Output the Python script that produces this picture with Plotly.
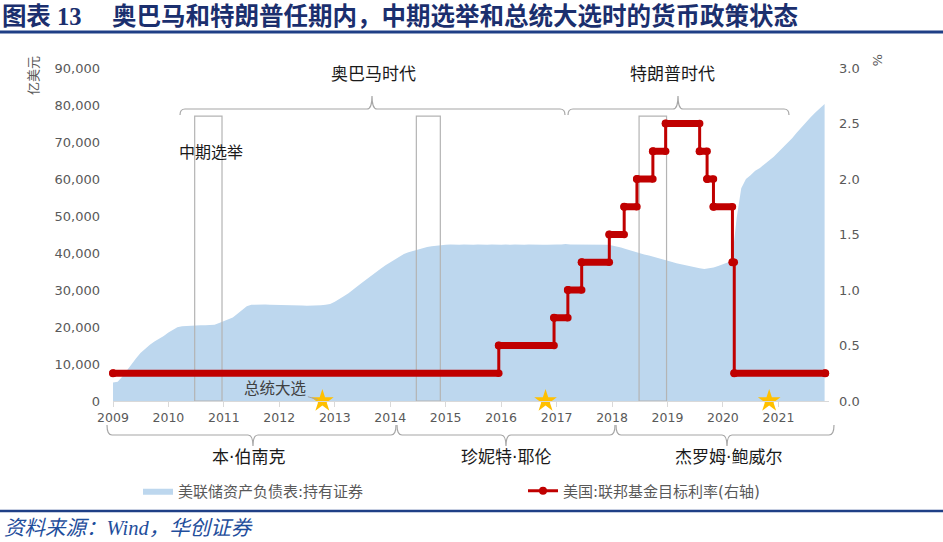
import plotly.graph_objects as go
import pandas as pd

# ---------------- data ----------------
holdings_start = "2009-01-01"
# 美联储资产负债表:持有证券 (亿美元), monthly from 2009-01
holdings = [
    5000, 5200, 6500, 8300, 10000, 11500, 13000, 14200, 15200, 16100, 16800, 17600,
    18500, 19300, 19900, 20200, 20300, 20400, 20500, 20500, 20500, 20500, 20600, 21100,
    21600, 22100, 22600, 23600, 24700, 25600, 26000, 26100, 26100, 26100, 26000, 26000,
    26000, 26000, 25900, 25900, 25800, 25800, 25750, 25750, 25800, 25900, 26000, 26200,
    26800, 27500, 28300, 29100, 30200, 31100, 32000, 32900, 33800, 34800, 35800, 36700,
    37500, 38200, 38900, 39700, 40200, 40600, 40900, 41300, 41600, 41800, 42000, 42100,
    42200, 42300, 42200, 42200, 42300, 42200, 42200, 42300, 42200, 42200, 42300, 42200,
    42200, 42300, 42200, 42300, 42200, 42200, 42300, 42200, 42300, 42200, 42200, 42300,
    42300, 42300, 42400, 42300, 42300, 42400, 42300, 42300, 42300, 42300, 42200, 42200,
    42000, 41800, 41500, 41100, 40700, 40300, 40000, 39600, 39300, 39000, 38700, 38400,
    38000, 37600, 37200, 36900, 36600, 36300, 36100, 35900, 35700, 35800, 36100, 36500,
    36900, 37400, 37900, 49500, 57500, 60000, 61000, 62200, 63000, 64000, 64900, 66000,
    67300, 68500, 69700, 71000, 72500, 74000, 75300, 76700, 78000, 79100, 80300,
]

# 美国:联邦基金目标利率 (%), change dates and levels
rate_dates = ["2009-01-01", "2015-12-17", "2016-12-15", "2017-03-16", "2017-06-15",
              "2017-12-14", "2018-03-22", "2018-06-14", "2018-09-27", "2018-12-20",
              "2019-08-01", "2019-09-19", "2019-10-31", "2020-03-04", "2020-03-16"]
rate_levels = [0.25, 0.50, 0.75, 1.00, 1.25, 1.50, 1.75, 2.00, 2.25, 2.50,
               2.25, 2.00, 1.75, 1.25, 0.25]
rate_end = "2021-11-05"

midterm_start = ["2010-06-23", "2014-06-22", "2018-06-28"]
midterm_end = ["2010-12-20", "2014-11-27", "2018-12-26"]
midterm_box_top = 77000

election_dates = ["2012-10-11", "2016-10-20", "2020-11-01"]

years = [str(y) for y in range(2009, 2022)]

name_area = "美联储资产负债表:持有证券"
name_rate = "美国:联邦基金目标利率(右轴)"

# ---------------- helpers (pixel -> paper) ----------------
W, H = 943, 542
ML, MR, MT, MB = 113, 114, 68, 141
PW, PH = W - ML - MR, H - MT - MB


def X(px):
    return (px - ML) / PW


def Y(py):
    return (H - MB - py) / PH


CJK = "Noto Sans CJK SC"
MIX = "DejaVu Sans, Noto Sans CJK SC"
NUM = "DejaVu Sans"
GRAY = "#595959"

holdings_dates = pd.date_range(holdings_start, periods=len(holdings), freq="MS")

fig = go.Figure()

# area
fig.add_trace(go.Scatter(
    x=holdings_dates, y=holdings, name=name_area, mode="lines",
    line=dict(width=0, color="#BDD7EE"), fill="tozeroy", fillcolor="#BDD7EE",
    hoverinfo="skip", legend="legend"))

# midterm boxes
bx, by = [], []
for s, e in zip(midterm_start, midterm_end):
    bx += [s, s, e, e, s, None]
    by += [0, midterm_box_top, midterm_box_top, 0, 0, None]
fig.add_trace(go.Scatter(x=bx, y=by, mode="lines", showlegend=False,
                         line=dict(color="#b4b4b4", width=1.2), hoverinfo="skip"))

# election stars
fig.add_trace(go.Scatter(x=election_dates, y=[0] * len(election_dates), mode="markers",
                         marker=dict(symbol="star", size=17, color="#FFC000",
                                     line=dict(width=0)),
                         showlegend=False, cliponaxis=False, hoverinfo="skip"))

# rate: thin step line (legend)
rx = rate_dates + [rate_end]
ry = rate_levels + [rate_levels[-1]]
fig.add_trace(go.Scatter(x=rx, y=ry, yaxis="y2", name=name_rate, mode="lines+markers",
                         line=dict(color="#C00000", width=3, shape="hv"),
                         marker=dict(size=8, color="#C00000"),
                         cliponaxis=False, hoverinfo="skip", legend="legend2"))
# rate: thick horizontal bars
tx, ty = [], []
for i, lvl in enumerate(rate_levels):
    tx += [rx[i], rx[i + 1], None]
    ty += [lvl, lvl, None]
fig.add_trace(go.Scatter(x=tx, y=ty, yaxis="y2", mode="lines+markers", showlegend=False,
                         line=dict(color="#C00000", width=7),
                         marker=dict(size=7.5, color="#C00000"),
                         cliponaxis=False, hoverinfo="skip"))


def brace(xl, xm, xr, yh, yend, ytip, r=5):
    return (f"M {X(xl)},{Y(yend)} Q {X(xl)},{Y(yh)} {X(xl + r)},{Y(yh)} "
            f"L {X(xm - r)},{Y(yh)} Q {X(xm)},{Y(yh)} {X(xm)},{Y(ytip)} "
            f"Q {X(xm)},{Y(yh)} {X(xm + r)},{Y(yh)} "
            f"L {X(xr - r)},{Y(yh)} Q {X(xr)},{Y(yh)} {X(xr)},{Y(yend)}")


shapes = []
brace_style = dict(type="path", xref="paper", yref="paper",
                   line=dict(color="#a6a6a6", width=1.2))
for (xl, xm, xr) in [(180, 372, 565), (568, 678, 789)]:
    shapes.append(dict(path=brace(xl, xm, xr, 109, 115, 96), **brace_style))
for (xl, xm, xr) in [(107, 253, 396), (397, 506, 615), (616, 727, 834)]:
    shapes.append(dict(path=brace(xl, xm, xr, 435, 425, 446), **brace_style))
shapes.append(dict(type="line", xref="paper", yref="paper", x0=X(0), x1=X(W),
                   y0=Y(32), y1=Y(32), line=dict(color="#1F3F86", width=3)))
shapes.append(dict(type="line", xref="paper", yref="paper", x0=X(0), x1=X(W),
                   y0=Y(511), y1=Y(511), line=dict(color="#1F3F86", width=2.5)))

ann = []


def label(text, px, py, size=17, color="#1a1a1a", family=MIX, **kw):
    ann.append(dict(text=text, xref="paper", yref="paper", x=X(px), y=Y(py),
                    showarrow=False, xanchor=kw.pop("xanchor", "center"),
                    yanchor="middle", font=dict(family=family, size=size, color=color), **kw))


label("奥巴马时代", 373, 74)
label("特朗普时代", 672, 74)
label("本·伯南克", 248, 457)
label("珍妮特·耶伦", 506, 457)
label("杰罗姆·鲍威尔", 728, 457)
label("中期选举", 211, 152, size=16)
label("亿美元", 33, 76, size=13, color=GRAY, textangle=-90)
label("%", 878, 60, size=13, color=GRAY, textangle=90)
label("<i>资料来源：Wind，华创证券</i>", 2, 528, size=20.5, color="#1F4E9C",
      family="Liberation Serif, " + CJK, xanchor="left")

ann.append(dict(text="总统大选", x=election_dates[0], y=0, xref="x", yref="y",
                showarrow=True, arrowhead=0, arrowwidth=1, arrowcolor="#a6a6a6",
                ax=-47, ay=-14, standoff=5,
                font=dict(family=CJK, size=15.5, color="#404040")))

legend_common = dict(orientation="h", y=Y(491), xanchor="left", yanchor="middle",
                     font=dict(family=MIX, size=15, color=GRAY),
                     bgcolor="rgba(0,0,0,0)")

fig.update_layout(
    width=W, height=H, margin=dict(l=ML, r=MR, t=MT, b=MB),
    paper_bgcolor="white", plot_bgcolor="white", hovermode=False,
    title=dict(text="<b>图表 13\u00a0\u00a0\u00a0\u00a0\u00a0奥巴马和特朗普任期内，中期选举和总统大选时的货币政策状态</b>",
               x=0.002, xref="container", xanchor="left",
               y=1 - 16 / H, yref="container", yanchor="middle",
               font=dict(family="Liberation Serif, " + CJK, size=24.5, color="#1B2F6E")),
    xaxis=dict(type="date", range=["2009-01-01", "2021-11-30"],
               tickvals=[f"{y}-01-01" for y in years], ticktext=years,
               ticks="outside", ticklen=5, tickcolor="#d9d9d9", showline=True,
               linecolor="#d9d9d9", linewidth=1, showgrid=False, zeroline=False,
               tickfont=dict(family=NUM, size=12.5, color=GRAY)),
    yaxis=dict(range=[0, 90000], dtick=10000, tickformat=",", showgrid=False,
               zeroline=False, showline=False, ticks="", ticklabelstandoff=12,
               tickfont=dict(family=NUM, size=13, color=GRAY)),
    yaxis2=dict(range=[0, 3], dtick=0.5, tickformat=".1f", overlaying="y", side="right",
                showgrid=False, zeroline=False, showline=False, ticks="",
                ticklabelstandoff=9, tickfont=dict(family=NUM, size=13, color=GRAY)),
    legend=dict(x=X(138), **legend_common),
    legend2=dict(x=X(523), **legend_common),
    shapes=shapes, annotations=ann,
)

fig.write_html("out.html")
